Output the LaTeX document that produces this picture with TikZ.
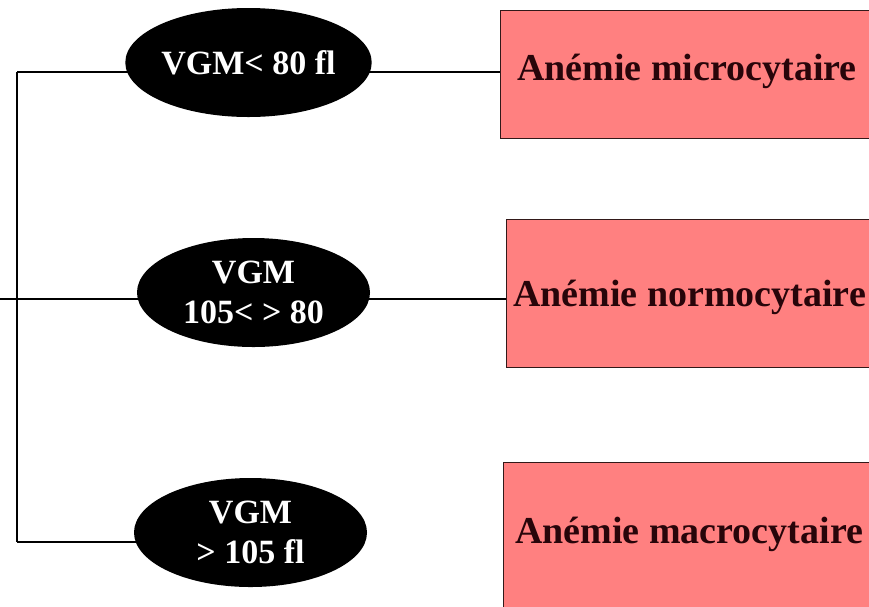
\documentclass[tikz,border=0pt]{standalone}
\usepackage{fontspec}
\setmainfont{Liberation Serif}
\usetikzlibrary{shapes.geometric}
\pgfdeclarelayer{background}
\pgfsetlayers{background,main}
\definecolor{boxfill}{RGB}{255,128,128}
\definecolor{boxline}{RGB}{50,25,25}
\definecolor{boxtext}{RGB}{40,5,10}
\tikzset{
  oval/.style={ellipse, fill=black, draw=none, minimum width=233pt, minimum height=109pt,
    inner sep=0pt, text=white, align=center, font=\bfseries\fontsize{34}{40}\selectfont},
  resbox/.style={rectangle, fill=boxfill, draw=boxline, line width=1.4pt, anchor=north west,
    minimum width=420pt, inner sep=0pt},
  restext/.style={anchor=west, inner sep=0pt, text=boxtext, font=\bfseries\fontsize{38}{44}\selectfont},
  conn/.style={draw=black, line width=1.4pt}
}
\begin{document}
\begin{tikzpicture}[x=1pt, y=-1pt]
\clip (0,0) rectangle (869,606);
% ellipses
\node[oval] (e1) at (248.5,62.5) {VGM< 80 fl};
\node[oval] (e2) at (253.5,292.5) {VGM\\105< > 80};
\node[oval] (e3) at (250.5,532.5) {VGM\\> 105 fl};
% boxes
\node[resbox, minimum height=128pt] (b1) at (500,10) {};
\node[resbox, minimum height=148pt] (b2) at (506,219) {};
\node[resbox, minimum height=170pt] (b3) at (503,462) {};
\node[restext] (t1) at (517,71) {Anémie microcytaire};
\node[restext] (t2) at (513,297) {Anémie normocytaire};
\node[restext] (t3) at (515,534) {Anémie macrocytaire};
% connectors
\coordinate (in) at (0,299);
\coordinate (j1) at (17,72);
\coordinate (j3) at (17,542);
\begin{pgfonlayer}{background}
\fill[white] (0,0) rectangle (869,606);
\draw[conn] (j1) -- (j3);
\draw[conn] (j1) -- (j1 -| e1.center);
\draw[conn] (in) -- (in -| e2.center);
\draw[conn] (j3) -- (j3 -| e3.center);
\draw[conn] (j1 -| e1.center) -- (j1 -| b1.west);
\draw[conn] (in -| e2.center) -- (in -| b2.west);
\end{pgfonlayer}
\end{tikzpicture}
\end{document}
